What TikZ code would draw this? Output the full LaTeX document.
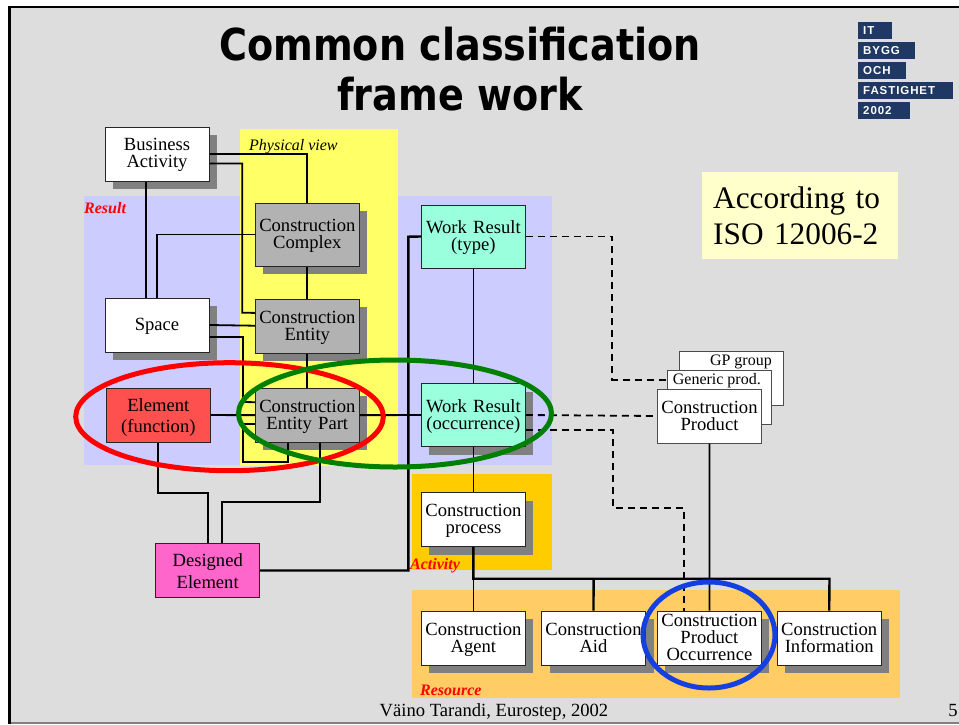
\documentclass[tikz,border=0pt]{standalone}
\usepackage{fontspec}
\setmainfont{Liberation Serif}
\newfontfamily\titlefont[FakeStretch=0.867]{DejaVu Sans}
\newfontfamily\logofont[LetterSpace=8]{Liberation Sans}
\usetikzlibrary{shapes.geometric, shadows}
\definecolor{slide}{HTML}{DDDDDD}
\definecolor{resultblue}{HTML}{CCCCFF}
\definecolor{physyellow}{HTML}{FFFF66}
\definecolor{activityamber}{HTML}{FFCC00}
\definecolor{resourceamber}{HTML}{FFCC66}
\definecolor{noteyellow}{HTML}{FFFFCC}
\definecolor{logoblue}{HTML}{1F3864}
\definecolor{ringblue}{HTML}{1540E0}
\definecolor{ringgreen}{HTML}{008000}
\definecolor{workgreen}{HTML}{99FFDD}
\definecolor{elementred}{HTML}{FF5050}
\definecolor{designedpink}{HTML}{FF66CC}
\tikzstyle{region} = [draw=none, inner sep=0pt]
\tikzstyle{plainbox} = [rectangle, minimum width=104pt, minimum height=54pt, inner sep=0pt, text width=102pt, align=center, draw=black!85, line width=1pt, fill=white, text=black, font=\fontsize{18.6}{17}\selectfont, execute at begin node={\rule{0pt}{15pt}}, execute at end node={\rule[-4pt]{0pt}{0pt}}]
\tikzstyle{wideline} = [font=\fontsize{18.6}{21.7}\selectfont, execute at begin node={\rule{0pt}{18pt}}]
\tikzstyle{shadowbox} = [plainbox, general shadow={shadow xshift=8pt, shadow yshift=-8pt, fill=black!50, opacity=1}]
\tikzstyle{greybox} = [shadowbox, fill=black!30]
\tikzstyle{tagtext} = [anchor=base west, inner sep=0pt, text=red, font=\fontsize{16}{17}\selectfont\bfseries\itshape]
\tikzstyle{smalltext} = [anchor=base east, inner sep=0pt, font=\fontsize{16}{17}\selectfont]
\tikzstyle{logotag} = [anchor=north west, minimum height=17pt, inner ysep=0pt, inner xsep=5pt, align=left, fill=logoblue, text=white, font=\logofont\fontsize{11.5}{12}\selectfont\bfseries]
\tikzstyle{link} = [black, line width=1.8pt]
\tikzstyle{heavylink} = [black, line width=2.4pt]
\tikzstyle{dashlink} = [black, line width=1.8pt, dash pattern=on 7pt off 5pt]
\tikzstyle{ring} = [ellipse, draw, line width=5pt, inner sep=0pt, fill=none]
\begin{document}
\begin{tikzpicture}[x=1pt, y=-1pt, node distance=100pt]
\useasboundingbox (0,0) rectangle (959,724);
\fill [white] (0,0) rectangle (959,724);
\fill [slide] (9,7) rectangle (959,722.5);
\draw [black, line width=2.5pt] (8,7.2) -- (959,7.2);
\draw [black, line width=2.6pt] (9.3,6) -- (9.3,724);
\draw [black!50, line width=1.5pt] (10.6,723.2) -- (959,723.2);

\node (resultbg) [region, fill=resultblue, minimum width=467.7pt, minimum height=269pt, anchor=north west] at (84,196) {};
\node (physicalbg) [region, fill=physyellow, minimum width=158.3pt, minimum height=337.4pt, anchor=north west] at (239.7,128.3) {};
\node (activitybg) [region, fill=activityamber, minimum width=139.7pt, minimum height=96pt, anchor=north west] at (412,474) {};
\node (resourcebg) [region, fill=resourceamber, minimum width=488.2pt, minimum height=107.7pt, anchor=north west] at (412,590) {};
\node (notebg) [region, fill=noteyellow, minimum width=196pt, minimum height=87pt, anchor=north west, align=left, text width=174pt, inner xsep=11pt, font=\fontsize{31.3}{36}\selectfont] at (702,172) {According to\\ISO 12006-2};

\node (title) [align=center, font=\titlefont\fontsize{44}{50}\selectfont\bfseries, inner sep=0pt] at (460,69) {Common classification\\frame work};

\node (logoit) [logotag, minimum width=34pt, text width=24pt] at (858,22) {IT};
\node (logobygg) [logotag, minimum width=57pt, text width=47pt] at (858,42) {BYGG};
\node (logooch) [logotag, minimum width=48pt, text width=38pt] at (858,62) {OCH};
\node (logofast) [logotag, minimum width=95pt, text width=85pt] at (858,82) {FASTIGHET};
\node (logoyear) [logotag, minimum width=52pt, text width=42pt] at (858,102) {2002};

\node (physicaltag) [tagtext, text=black, font=\fontsize{16}{17}\selectfont\itshape] at (249,150) {Physical view};
\node (resulttag) [tagtext] at (84,213) {Result};
\node (activitytag) [tagtext] at (410,569) {Activity};
\node (resourcetag) [tagtext] at (420,695) {Resource};

\node (business) [shadowbox] at (157,154) {Business\\Activity};
\node (space) [shadowbox, below of=business, node distance=171pt] {Space};
\node (element) [plainbox, wideline, fill=elementred, below of=space, node distance=90pt, xshift=1.3pt] {Element\\(function)};
\node (designed) [plainbox, wideline, fill=designedpink, below of=element, node distance=155.5pt, xshift=49.4pt] {Designed\\Element};

\node (complex) [greybox, minimum height=63pt] at (307.3,234.5) {Construction\\Complex};
\node (entity) [greybox, below of=complex, node distance=91.7pt] {Construction\\Entity};
\node (part) [greybox, below of=entity, node distance=89pt] {Construction\\Entity Part};

\node (worktype) [plainbox, fill=workgreen, minimum height=63pt] at (473.4,236.5) {Work Result\\(type)};
\node (workocc) [shadowbox, fill=workgreen, minimum height=63pt, below of=worktype, node distance=178.5pt] {Work Result\\(occurrence)};
\node (process) [shadowbox, below of=workocc, node distance=104.7pt] {Construction\\process};
\node (agent) [shadowbox, below of=process, node distance=118.3pt] {Construction\\Agent};
\node (aid) [shadowbox, right of=agent, node distance=120.1pt] {Construction\\Aid};
\node (prodocc) [shadowbox, right of=aid, node distance=115.9pt] {Construction\\Product\\Occurrence};
\node (information) [shadowbox, right of=prodocc, node distance=119.8pt] {Construction\\Information};

\node (gpgroup) [plainbox, draw=black!70] at (731.2,378) {};
\node (gptext) [smalltext] at (772,365) {GP group};
\node (generic) [plainbox, draw=black!70] at (719.5,397.3) {};
\node (generictext) [smalltext] at (761,384) {Generic prod.};
\node (product) [plainbox, draw=black!70] at (709.5,416) {Construction\\Product};

\node (footer) [inner sep=0pt, anchor=base, font=\fontsize{18.6}{20}\selectfont] at (494,716.5) {Väino Tarandi, Eurostep, 2002};
\node (pagenum) [inner sep=0pt, anchor=base, font=\fontsize{18.6}{20}\selectfont] at (953,716.5) {5};

\draw [heavylink] ([xshift=-11pt]business.south) -- ([xshift=-11pt]space.north);
\draw [link] (business.east) -| (complex.north);
\draw [link] ([yshift=-9.5pt]business.east) -| (242.3,312.7) -- ([yshift=13.3pt]entity.west);
\draw [link] (complex.west) -| (space.north);
\draw [link] (complex) -- (entity);
\draw [link] (space.east) -- ([yshift=0.5pt]entity.west);
\draw [link] ([yshift=-12pt]space.east) -| (243,402) -- ([yshift=13pt]part.west);
\draw [link] ([xshift=-19.3pt]part.south) |- (243,461.7) |- ([yshift=-9pt]part.west);
\draw [link] (entity) -- (part);
\draw [link] (element) -- (part);
\draw [link] (element.south) |- (207.7,492.7) -- (designed.north);
\draw [link] ([xshift=13pt]part.south) |- (222.3,502) -- ([xshift=14.6pt]designed.north);
\draw [heavylink] (designed.east) -| (408.3,236.7) -- (worktype.west);
\draw [link] (part) -- (workocc);
\draw [link] (worktype) -- (workocc);
\draw [link] (workocc) -- (process);
\draw [dashlink] (worktype.east) -| (612.3,379.7) -- ([yshift=17.6pt]generic.west);
\draw [dashlink] (workocc.east) -- (product.west);
\draw [dashlink] ([yshift=-14.7pt]workocc.east) -| (612.7,507.7) -| ([xshift=-25.7pt]prodocc.north);
\draw [heavylink] (process.south) |- (829.5,578.7) -- (information.north);
\draw [link] (process.south) -- (agent.north);
\draw [heavylink] (aid.north) -- (593.6,578.7);
\draw [link] (product.south) -- (prodocc.north);

\node (redring) [ring, draw=red, minimum width=307.6pt, minimum height=108pt] at (229.5,416.7) {};
\node (greenring) [ring, draw=ringgreen, minimum width=313pt, minimum height=107pt] at (395,413.5) {};
\node (bluering) [ring, draw=ringblue, minimum width=132pt, minimum height=106pt] at (709,635) {};
\end{tikzpicture}
\end{document}
